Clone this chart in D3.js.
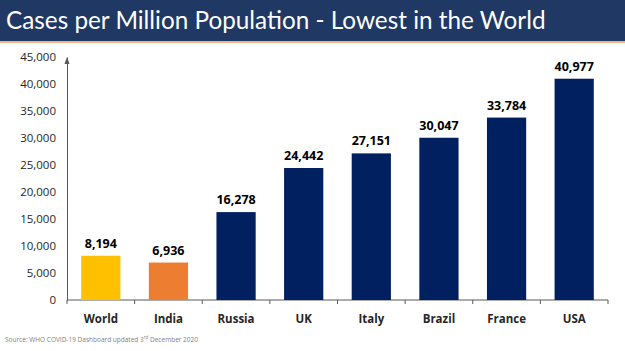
<!DOCTYPE html>
<html>
<head>
<meta charset="utf-8">
<script src="https://cdn.jsdelivr.net/npm/d3@7"></script>
<style>
  html, body { margin: 0; padding: 0; background: #fff; }
  #chart { width: 625px; height: 351px; }
  text { font-family: Calibri, Carlito, 'Open Sans', sans-serif; }
</style>
</head>
<body>
<div id="chart"></div>
<script>
const countries = ['World', 'India', 'Russia', 'UK', 'Italy', 'Brazil', 'France', 'USA']
const cases = [8194, 6936, 16278, 24442, 27151, 30047, 33784, 40977]
const barColors = ['#ffc000', '#ed7d31', '#002060', '#002060', '#002060', '#002060', '#002060', '#002060']
const yTicks = [0, 5000, 10000, 15000, 20000, 25000, 30000, 35000, 40000, 45000]

const width = 625
const height = 351
const plotLeft = 67
const plotRight = 608
const plotBottom = 300
const plotTop = 57

const svg = d3.select('#chart')
  .append('svg')
  .attr('width', width)
  .attr('height', height)
  .attr('viewBox', [0, 0, width, height])

// header band
svg.append('rect')
  .attr('x', 0).attr('y', 0)
  .attr('width', width).attr('height', 42)
  .attr('fill', '#1f3864')
svg.append('rect')
  .attr('x', 0).attr('y', 41)
  .attr('width', width).attr('height', 2)
  .attr('fill', '#f4b183')
svg.append('text')
  .attr('x', 6).attr('y', 29)
  .attr('fill', '#fff')
  .attr('font-size', 24.3)
  .style('font-family', "'Lato', 'Open Sans', sans-serif")
  .text('Cases per Million Population - Lowest in the World')

const x = d3.scaleBand()
  .domain(countries)
  .range([plotLeft, plotRight])
  .paddingInner(0.42)
  .paddingOuter(0.21)

const y = d3.scaleLinear()
  .domain([0, 45000])
  .range([plotBottom, plotTop])

// y axis
const yAxis = svg.append('g')
  .attr('transform', `translate(${plotLeft},0)`)
  .call(d3.axisLeft(y).tickValues(yTicks).tickSize(0).tickPadding(11).tickFormat(d3.format(',')))
yAxis.select('.domain').attr('stroke', '#595959')
yAxis.selectAll('.tick text')
  .attr('font-size', 11.5)
  .attr('fill', '#262626')
  .style('font-family', "'Open Sans', sans-serif")
svg.append('path')
  .attr('d', `M${plotLeft - 2.5},${plotTop + 7} L${plotLeft},${plotTop} L${plotLeft + 2.5},${plotTop + 7} Z`)
  .attr('fill', '#595959')

// x axis with ticks between categories
const xAxis = svg.append('g')
  .attr('transform', `translate(0,${plotBottom})`)
xAxis.append('line')
  .attr('x1', plotLeft).attr('x2', plotRight)
  .attr('stroke', '#595959')
const step = x.step()
xAxis.selectAll('.sep')
  .data(d3.range(countries.length + 1))
  .join('line')
  .attr('class', 'sep')
  .attr('x1', (d) => plotLeft + d * step)
  .attr('x2', (d) => plotLeft + d * step)
  .attr('y1', 0).attr('y2', 4)
  .attr('stroke', '#595959')
xAxis.selectAll('.lbl')
  .data(countries)
  .join('text')
  .attr('class', 'lbl')
  .attr('x', (d) => x(d) + x.bandwidth() / 2)
  .attr('y', 23)
  .attr('text-anchor', 'middle')
  .attr('font-size', 11.5)
  .attr('font-weight', 'bold')
  .attr('fill', '#262626')
  .style('font-family', "'Open Sans', sans-serif")
  .text((d) => d)

// bars
const rows = countries.map((c, i) => ({ country: c, value: cases[i], color: barColors[i] }))
svg.append('g')
  .selectAll('rect')
  .data(rows)
  .join('rect')
  .attr('x', (d) => x(d.country))
  .attr('y', (d) => y(d.value))
  .attr('width', x.bandwidth())
  .attr('height', (d) => plotBottom - y(d.value))
  .attr('fill', (d) => d.color)

svg.append('g')
  .selectAll('text')
  .data(rows)
  .join('text')
  .attr('x', (d) => x(d.country) + x.bandwidth() / 2)
  .attr('y', (d) => y(d.value) - 8)
  .attr('text-anchor', 'middle')
  .attr('font-size', 12.5)
  .attr('font-weight', 'bold')
  .attr('fill', '#000')
  .style('font-family', "'Open Sans', sans-serif")
  .text((d) => d3.format(',')(d.value))

// source note
const src = svg.append('text')
  .attr('x', 5).attr('y', 342)
  .attr('font-size', 6.5)
  .attr('fill', '#7f7f7f')
  .style('font-family', "'Open Sans', sans-serif")
src.append('tspan').text('Source: WHO COVID-19 Dashboard updated 3')
src.append('tspan').attr('baseline-shift', 'super').attr('font-size', 4.5).text('rd')
src.append('tspan').text(' December 2020')
</script>
</body>
</html>
